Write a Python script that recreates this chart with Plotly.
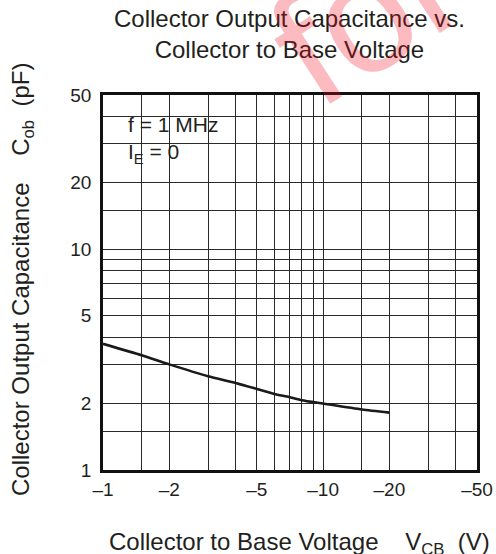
import plotly.graph_objects as go

# ---- data (magnitudes of V_CB; labels shown negative) ----
vcb_mag = [1, 1.5, 2, 3, 4, 5, 6, 7, 8, 10, 15, 20]
cob_pf = [3.73, 3.31, 3.01, 2.66, 2.48, 2.33, 2.21, 2.14, 2.07, 2.0, 1.88, 1.82]

x_major = [1, 2, 5, 10, 20, 50]
x_labels = ["\u20131", "\u20132", "\u20135", "\u201310", "\u201320", "\u201350"]
x_minor = [1.5, 3, 4, 6, 7, 8, 9, 15, 30, 40]

y_major = [1, 2, 5, 10, 20, 50]
y_labels = ["1", "2", "5", "10", "20", "50"]
y_minor = [1.5, 3, 4, 6, 7, 8, 9, 15, 30, 40]

FONT = "Liberation Sans, Arial, sans-serif"
TXT = "#231f20"
GRID = "#2a2a2a"

W, H = 496, 554
ML, MR, MT, MB = 103, 19, 95, 84
PW, PH = W - ML - MR, H - MT - MB


def px(xp):  # page pixel -> paper
    return (xp - ML) / PW


def py(yp):
    return (H - MB - yp) / PH


fig = go.Figure()
fig.add_trace(go.Scatter(
    x=vcb_mag, y=cob_pf, mode="lines",
    line=dict(color="#1a1a1a", width=2.6, shape="spline", smoothing=0.6),
    hoverinfo="skip", showlegend=False,
))

axis_common = dict(
    type="log", automargin=False,
    showline=True, linecolor="#111", linewidth=2.5, mirror=True,
    showgrid=True, gridcolor=GRID, gridwidth=1,
    zeroline=False, ticks="", tickfont=dict(family=FONT, size=19, color=TXT),
)

fig.update_xaxes(
    range=[0, 1.69897], tickmode="array", tickvals=x_major, ticktext=x_labels,
    minor=dict(tickmode="array", tickvals=x_minor, showgrid=True,
               gridcolor=GRID, gridwidth=1, ticks=""),
    ticklabelstandoff=0,
    **axis_common,
)
fig.update_yaxes(
    range=[0, 1.69897], tickmode="array", tickvals=y_major, ticktext=y_labels,
    minor=dict(tickmode="array", tickvals=y_minor, showgrid=True,
               gridcolor=GRID, gridwidth=1, ticks=""),
    ticklabelstandoff=5,
    **axis_common,
)

# white box behind the condition text
fig.add_shape(type="rect", xref="paper", yref="paper",
              x0=px(113), x1=px(224), y0=py(170), y1=py(108),
              fillcolor="white", line=dict(width=0), layer="between")

annotations = [
    dict(text="f = 1 MHz<br>I<sub>E</sub> = 0", x=px(126), y=py(111),
         xanchor="left", yanchor="top", align="left", showarrow=False,
         font=dict(family=FONT, size=21, color=TXT)),
    dict(text="Collector Output Capacitance vs.<br>Collector to Base Voltage",
         x=px(289), y=py(34), xanchor="center", yanchor="middle",
         showarrow=False, font=dict(family=FONT, size=24, color=TXT)),
    dict(text="Collector to Base Voltage&nbsp;&nbsp;&nbsp;&nbsp;V<sub>CB</sub>&nbsp;&nbsp;(V)",
         x=px(107), y=py(543), xanchor="left", yanchor="middle",
         showarrow=False, font=dict(family=FONT, size=24, color=TXT)),
    dict(text="Collector Output Capacitance&nbsp;&nbsp;&nbsp;&nbsp;C<sub>ob</sub>&nbsp;&nbsp;(pF)",
         x=px(22), y=py(279), xanchor="center", yanchor="middle", textangle=-90,
         showarrow=False, font=dict(family=FONT, size=24, color=TXT)),
    dict(text="for", x=px(366), y=py(14), xanchor="center", yanchor="middle",
         textangle=-33, showarrow=False,
         font=dict(family=FONT, size=160, color="rgba(240,10,30,0.28)")),
]
for a in annotations:
    a.update(xref="paper", yref="paper")

fig.update_layout(
    width=W, height=H, margin=dict(l=ML, r=MR, t=MT, b=MB, autoexpand=False),
    paper_bgcolor="white", plot_bgcolor="white", autosize=False,
    annotations=annotations, showlegend=False,
)

fig.write_html(
    "out.html",
    config={"responsive": False, "displayModeBar": False},
    post_script="document.body.style.margin='0';document.body.style.overflow='hidden';",
)
